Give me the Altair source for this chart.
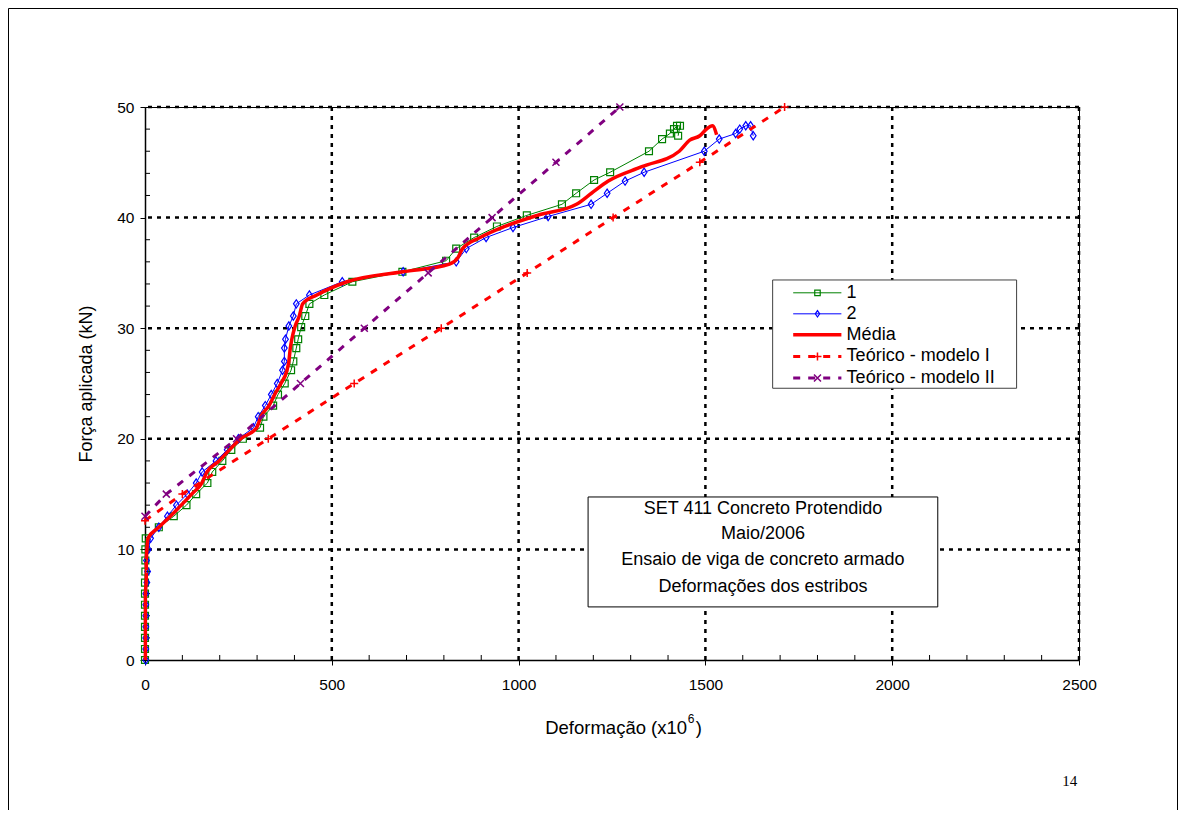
import altair as alt
import pandas as pd

# ---------------- data ----------------
s1_x = [0, 0, 0, 0, 0, 0, 0, 0, 1, 1, 1, 2, 37, 77, 111, 137, 167, 180, 207, 231, 262, 308, 317, 343, 356,
        374, 391, 397, 405, 410, 418, 429, 440, 480, 555, 689, 806, 833, 881, 942, 1022, 1116, 1154, 1202,
        1245, 1349, 1384, 1405, 1416, 1424, 1432, 1427]
s1_y = [0, 1, 2, 3, 4, 5, 6, 7, 8, 9, 10, 11, 12, 13, 14, 15, 16, 17, 18, 19, 20, 21, 22, 23, 24,
        25, 26.2, 27, 28.2, 29, 30.1, 31.1, 32.2, 33, 34.2, 35.1, 36.1, 37.2, 38.2, 39.2, 40.2, 41.2, 42.2, 43.4,
        44.1, 46.0, 47.1, 47.6, 48.0, 48.3, 48.3, 47.4]

s2_x = [2, 2, 2, 2, 2, 2, 2, 5, 7, 4, 9, 15, 37, 60, 84, 113, 137, 153, 190, 220, 250, 290, 303, 322, 338,
        354, 368, 373, 373, 376, 385, 397, 405, 440, 528, 691, 833, 860, 913, 985, 1079, 1194, 1237, 1285,
        1336, 1497, 1537, 1581, 1592, 1608, 1621, 1628]
s2_y = [0, 1, 2, 3, 4, 5, 6, 7, 8, 9, 10, 11, 12, 13, 14, 15, 16, 17, 18, 19, 20, 21, 22, 23, 24,
        25, 26.2, 27, 28.2, 29, 30.2, 31.1, 32.2, 33, 34.2, 35.1, 36.0, 37.2, 38.2, 39.1, 40.1, 41.2, 42.2, 43.3,
        44.1, 46.0, 47.1, 47.6, 48.0, 48.3, 48.3, 47.4]

media_x = [1, 1, 1, 1, 1, 1, 1, 3, 4, 3, 5, 8, 37, 68, 97, 125, 152, 166, 198, 226, 256, 299, 310, 332, 347,
           364, 380, 385, 389, 393, 402, 413, 422, 460, 541, 690, 815, 838, 850, 897, 963, 1050, 1155, 1195, 1240,
           1330, 1430, 1458, 1485, 1503, 1519, 1530]
media_y = [0, 1, 2, 3, 4, 5, 6, 7, 8, 9, 10, 11, 12, 13, 14, 15, 16, 17, 18, 19, 20, 21, 22, 23, 24,
           25, 26.2, 27, 28.2, 29, 30.2, 31.1, 32.2, 33, 34.2, 35.1, 35.8, 36.4, 37.2, 38.2, 39.2, 40.2, 41.2, 42.2,
           43.3, 44.6, 46.0, 47.0, 47.4, 48.0, 48.3, 47.5]

t1_x = [0, 100, 330, 560, 793, 1023, 1253, 1485, 1712]
t1_y = [12.6, 15, 20, 25, 30, 35, 40, 45, 50]

t2_x = [0, 57, 245, 416, 587, 758, 929, 1100, 1271]
t2_y = [13.0, 15, 20, 25, 30, 35, 40, 45, 50]

series_labels = ["1", "2", "Média", "Teórico - modelo I", "Teórico - modelo II"]
box_lines = ["SET 411 Concreto Protendido", "Maio/2006", "Ensaio de viga de concreto armado",
             "Deformações dos estribos"]
x_title_parts = ["Deformação (x10", "6", ")"]
page_number = "14"

x_ticks = [0, 500, 1000, 1500, 2000, 2500]
y_ticks = [0, 10, 20, 30, 40, 50]
x_minor = [v for v in range(100, 2500, 100) if v % 500]
y_minor = [v for v in range(2, 50, 2) if v % 10]

# ---------------- styling / layout ----------------
FONT = "Liberation Sans"
W, H = 934, 553
GREEN, BLUE, RED, PURPLE = "#008000", "#0000FF", "#FF0000", "#800080"
PLUS = "M-1,0H1M0,-1V1"
CROSS = "M-1,-1L1,1M-1,1L1,-1"
DIAMOND = "M0,-1.25L0.85,0L0,1.25L-0.85,0Z"
DASH = [7, 8]
TXT = 18

xscale = alt.Scale(domain=[0, 2500], nice=False, zero=False)
yscale = alt.Scale(domain=[0, 50], nice=False, zero=False)
xaxis = alt.Axis(values=x_ticks, title="", grid=False, tickSize=5, tickColor="black",
                 tickWidth=1, domainColor="black", domainWidth=1.5, labelFont=FONT, labelFontSize=15.5,
                 labelColor="black", labelPadding=12, format="d", labelFlush=False)
yaxis = alt.Axis(values=y_ticks, title="Força aplicada (kN)", grid=False, tickSize=5, tickColor="black",
                 tickWidth=1, domainColor="black", domainWidth=1.5, labelFont=FONT, labelFontSize=15.5,
                 labelColor="black", labelPadding=6, titleFont=FONT, titleFontSize=18,
                 titleFontWeight="normal", titleColor="black", titlePadding=21, format="d",
                 labelFlush=False)


def X(field="x"):
    return alt.X(f"{field}:Q", scale=xscale, axis=xaxis)


def Y(field="y"):
    return alt.Y(f"{field}:Q", scale=yscale, axis=yaxis)


def frame(xs, ys):
    return pd.DataFrame({"x": xs, "y": ys, "i": list(range(len(xs)))})


layers = []

# outer page frame
one = pd.DataFrame({"a": [0]})
layers.append(alt.Chart(one).mark_rect(fill=None, stroke="black", strokeWidth=1).encode(
    x=alt.value(-136.5), x2=alt.value(1032.5), y=alt.value(-98.5), y2=alt.value(900)))

# dotted grid
layers.append(alt.Chart(pd.DataFrame({"x": x_ticks[1:]})).mark_rule(
    color="black", strokeWidth=2.5, strokeDash=[4, 5]).encode(x=X()))
layers.append(alt.Chart(pd.DataFrame({"y": y_ticks[1:]})).mark_rule(
    color="black", strokeWidth=2.5, strokeDash=[4, 5]).encode(y=Y()))

# minor ticks (inside)
layers.append(alt.Chart(pd.DataFrame({"x": x_minor})).mark_rule(color="black", strokeWidth=1).encode(
    x=X(), y=alt.value(H), y2=alt.value(H - 5)))
layers.append(alt.Chart(pd.DataFrame({"y": y_minor})).mark_rule(color="black", strokeWidth=1).encode(
    y=Y(), x=alt.value(0), x2=alt.value(5)))

# series 1
d1 = frame(s1_x, s1_y)
layers.append(alt.Chart(d1).mark_line(color=GREEN, strokeWidth=1).encode(x=X(), y=Y(), order="i:Q"))
layers.append(alt.Chart(d1).mark_point(shape="square", filled=False, color=GREEN, size=48,
                                       strokeWidth=1.2, opacity=1).encode(x=X(), y=Y()))
# series 2
d2 = frame(s2_x, s2_y)
layers.append(alt.Chart(d2).mark_line(color=BLUE, strokeWidth=1).encode(x=X(), y=Y(), order="i:Q"))
layers.append(alt.Chart(d2).mark_point(shape=DIAMOND, filled=False, color=BLUE, size=44,
                                       strokeWidth=1.2, opacity=1).encode(x=X(), y=Y()))
# média
dm = frame(media_x, media_y)
layers.append(alt.Chart(dm).mark_line(color=RED, strokeWidth=3.5, interpolate="monotone").encode(
    x=X(), y=Y(), order="i:Q"))
# teórico I
dt1 = frame(t1_x, t1_y)
layers.append(alt.Chart(dt1).mark_line(color=RED, strokeWidth=3, strokeDash=DASH).encode(
    x=X(), y=Y(), order="i:Q"))
layers.append(alt.Chart(dt1).mark_point(shape=PLUS, filled=False, color=RED, size=64,
                                        strokeWidth=1.5, opacity=1).encode(x=X(), y=Y()))
# teórico II
dt2 = frame(t2_x, t2_y)
layers.append(alt.Chart(dt2).mark_line(color=PURPLE, strokeWidth=3, strokeDash=DASH).encode(
    x=X(), y=Y(), order="i:Q"))
layers.append(alt.Chart(dt2).mark_point(shape=CROSS, filled=False, color=PURPLE, size=49,
                                        strokeWidth=1.5, opacity=1).encode(x=X(), y=Y()))

# ---------------- legend (placed in data coordinates) ----------------
LEG_X1, LEG_X2, LEG_Y1, LEG_Y2 = 1680, 2333, 24.57, 34.36
LEG_ROWS = [33.2, 31.3, 29.4, 27.45, 25.5]
LEG_L1, LEG_L2, LEG_MID, LEG_TX = 1735, 1864, 1800, 1878
layers.append(alt.Chart(pd.DataFrame({"x": [LEG_X1], "x2": [LEG_X2], "y": [LEG_Y1], "y2": [LEG_Y2]}))
              .mark_rect(fill="white", stroke="#404040", strokeWidth=1)
              .encode(x=X(), x2="x2:Q", y=Y(), y2="y2:Q"))
styles = [
    dict(color=GREEN, strokeWidth=1, dash=None, shape="square", size=30, sw=1.2),
    dict(color=BLUE, strokeWidth=1, dash=None, shape=DIAMOND, size=26, sw=1.2),
    dict(color=RED, strokeWidth=3.5, dash=None, shape=None, size=0, sw=0),
    dict(color=RED, strokeWidth=3, dash=DASH, shape=PLUS, size=64, sw=1.5),
    dict(color=PURPLE, strokeWidth=3, dash=DASH, shape=CROSS, size=49, sw=1.5),
]
for row_y, st in zip(LEG_ROWS, styles):
    seg = pd.DataFrame({"x": [LEG_L1, LEG_L2], "y": [row_y, row_y], "i": [0, 1]})
    kw = dict(color=st["color"], strokeWidth=st["strokeWidth"])
    if st["dash"]:
        kw["strokeDash"] = st["dash"]
    layers.append(alt.Chart(seg).mark_line(**kw).encode(x=X(), y=Y(), order="i:Q"))
    if st["shape"]:
        layers.append(alt.Chart(pd.DataFrame({"x": [LEG_MID], "y": [row_y]})).mark_point(
            shape=st["shape"], filled=False, color=st["color"], size=st["size"], strokeWidth=st["sw"],
            opacity=1).encode(x=X(), y=Y()))
layers.append(alt.Chart(pd.DataFrame({"x": [LEG_TX] * 5, "y": LEG_ROWS, "t": series_labels}))
              .mark_text(align="left", baseline="middle", font=FONT, fontSize=TXT, color="black")
              .encode(x=X(), y=Y(), text="t:N"))

# ---------------- annotation box ----------------
BOX_X1, BOX_X2, BOX_Y1, BOX_Y2 = 1186, 2122, 4.8, 14.74
BOX_CX = 1654
BOX_ROWS = [13.65, 11.35, 9.0, 6.6]
layers.append(alt.Chart(pd.DataFrame({"x": [BOX_X1], "x2": [BOX_X2], "y": [BOX_Y1], "y2": [BOX_Y2]}))
              .mark_rect(fill="white", stroke="black", strokeWidth=1)
              .encode(x=X(), x2="x2:Q", y=Y(), y2="y2:Q"))
layers.append(alt.Chart(pd.DataFrame({"x": [BOX_CX] * 4, "y": BOX_ROWS, "t": box_lines}))
              .mark_text(align="center", baseline="middle", font=FONT, fontSize=TXT, color="black")
              .encode(x=X(), y=Y(), text="t:N"))

# ---------------- x-axis title with superscript ----------------
layers.append(alt.Chart(pd.DataFrame({"x": [1451], "y": [-6.15], "t": [x_title_parts[0]]}))
              .mark_text(align="right", baseline="middle", font=FONT, fontSize=18.5, color="black")
              .encode(x=X(), y=Y(), text="t:N"))
layers.append(alt.Chart(pd.DataFrame({"x": [1453], "y": [-5.3], "t": [x_title_parts[1]]}))
              .mark_text(align="left", baseline="middle", font=FONT, fontSize=12, color="black")
              .encode(x=X(), y=Y(), text="t:N"))
layers.append(alt.Chart(pd.DataFrame({"x": [1474], "y": [-6.15], "t": [x_title_parts[2]]}))
              .mark_text(align="left", baseline="middle", font=FONT, fontSize=18.5, color="black")
              .encode(x=X(), y=Y(), text="t:N"))

# page number
layers.append(alt.Chart(pd.DataFrame({"x": [2475], "y": [-10.9], "t": [page_number]}))
              .mark_text(align="center", baseline="middle", font="Liberation Serif", fontSize=15,
                         color="black")
              .encode(x=X(), y=Y(), text="t:N"))

chart = alt.layer(*layers).properties(
    width=W, height=H,
    autosize=alt.AutoSizeParams(type="none"),
    padding={"left": 137, "top": 99, "right": 99, "bottom": 150},
    background="white",
).configure_view(stroke="black", strokeWidth=1)

chart.save("out.html", embed_options={"renderer": "svg", "actions": False})
